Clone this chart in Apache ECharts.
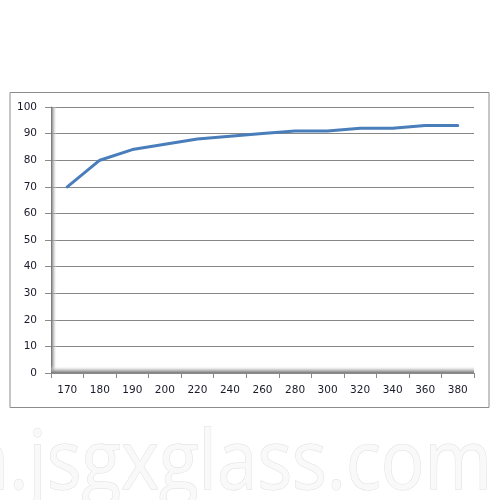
<!DOCTYPE html>
<html>
<head>
<meta charset="utf-8">
<script src="https://cdn.jsdelivr.net/npm/echarts@6/dist/echarts.min.js"></script>
<style>html,body{margin:0;padding:0;background:#fff;}#c{width:500px;height:500px;}</style>
</head>
<body>
<div id="c"></div>
<script>
var categories = ['170','180','190','200','220','240','260','280','300','320','340','360','380'];
var values = [70, 80, 84, 86, 88, 89, 90, 91, 91, 92, 92, 93, 93];
var yMin = 0, yMax = 100, yInterval = 10;
var watermark = 'n.jsgxglass.com';

var G = {left: 51, right: 26, top: 107, bottom: 127};
var labelFont = 'DejaVu Sans';

var chart = echarts.init(document.getElementById('c'), null, {renderer: 'canvas'});
var option = {
  animation: false,
  backgroundColor: '#ffffff',
  grid: {left: G.left, right: G.right, top: G.top, bottom: G.bottom, containLabel: false},
  xAxis: {
    type: 'category',
    data: categories,
    boundaryGap: true,
    axisLine: {show: true, lineStyle: {color: '#8a8a8a', width: 1}},
    axisTick: {show: true, alignWithLabel: false, length: 5, lineStyle: {color: '#8a8a8a'}},
    axisLabel: {color: '#1a1a2a', fontFamily: labelFont, fontSize: 10.5, margin: 12, interval: 0},
    splitLine: {show: false}
  },
  yAxis: {
    type: 'value',
    min: yMin, max: yMax, interval: yInterval,
    axisLine: {show: true, lineStyle: {color: '#8a8a8a', width: 1}},
    axisTick: {show: true, length: 6, lineStyle: {color: '#8a8a8a'}},
    axisLabel: {color: '#1a1a2a', fontFamily: labelFont, fontSize: 10.5, margin: 14},
    splitLine: {show: true, lineStyle: {color: '#878787', width: 1}}
  },
  series: [{
    type: 'line',
    data: values,
    showSymbol: false,
    symbol: 'none',
    smooth: false,
    z: 5,
    lineStyle: {color: '#4a7ebb', width: 3, cap: 'round', join: 'round'}
  }]
};
chart.setOption(option);

var pLeft = G.left, pRight = 500 - G.right, pTop = G.top, pBottom = 500 - G.bottom;
chart.setOption({
  graphic: [
    {type: 'rect', z: -1, silent: true,
      shape: {x: 10, y: 92.5, width: 479, height: 315},
      style: {fill: 'none', stroke: '#8c8c8c', lineWidth: 1}},
    {type: 'rect', z: 1, silent: true,
      shape: {x: pLeft, y: pTop, width: 6, height: pBottom - pTop},
      style: {fill: new echarts.graphic.LinearGradient(0, 0, 1, 0, [
        {offset: 0, color: 'rgba(110,110,110,0.95)'},
        {offset: 0.4, color: 'rgba(165,165,165,0.7)'},
        {offset: 1, color: 'rgba(255,255,255,0)'}])}},
    {type: 'rect', z: 1, silent: true,
      shape: {x: pLeft, y: pBottom - 7, width: pRight - pLeft, height: 7},
      style: {fill: new echarts.graphic.LinearGradient(0, 0, 0, 1, [
        {offset: 0, color: 'rgba(255,255,255,0)'},
        {offset: 0.6, color: 'rgba(165,165,165,0.7)'},
        {offset: 1, color: 'rgba(110,110,110,0.95)'}])}},
    {type: 'text', z: 10, silent: true, x: 492, y: 465, scaleX: 0.91, scaleY: 1.04,
      style: {text: watermark, x: 0, y: 0, align: 'right', verticalAlign: 'middle',
        font: '80px "Open Sans"',
        fill: '#f9f9f9', stroke: '#dedede', lineWidth: 1}}
  ]
});
</script>
</body>
</html>
